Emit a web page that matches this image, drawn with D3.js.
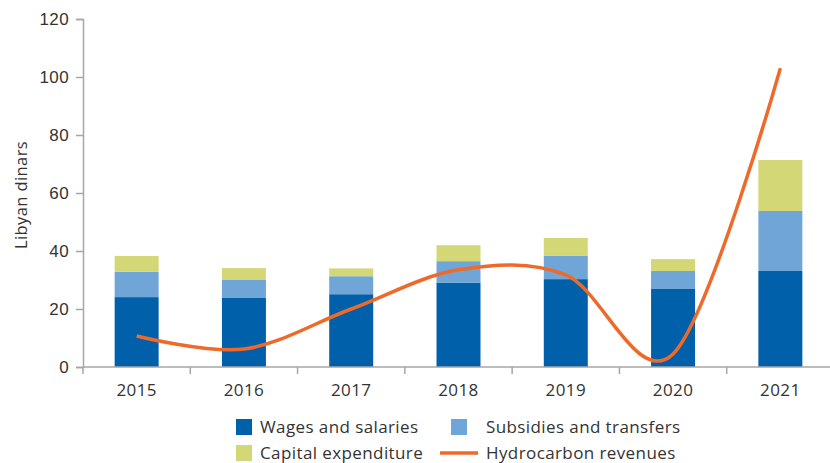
<!DOCTYPE html>
<html>
<head>
<meta charset="utf-8">
<script src="https://cdn.jsdelivr.net/npm/d3@7"></script>
<style>
  body { margin: 0; background: #fff; }
  svg { display: block; font-family: "Open Sans", "Noto Sans", sans-serif; letter-spacing: 0.4px; }
  .axis text { fill: #333; font-size: 17px; }
</style>
</head>
<body>
<div id="chart"></div>
<script>
// values in Libyan dinars (billions)
const years = ['2015', '2016', '2017', '2018', '2019', '2020', '2021'];
const wages = [24.1, 23.8, 25.1, 29.1, 30.3, 26.9, 33.1];
const subsidies = [8.7, 6.2, 6.2, 7.4, 8.0, 6.2, 20.7];
const capital = [5.5, 4.1, 2.7, 5.5, 6.2, 4.1, 17.6];
const hydrocarbon = [10.7, 6.2, 20.0, 33.5, 31.8, 4.5, 103];
const yTicks = [0, 20, 40, 60, 80, 100, 120];

const COLORS = {
  wages: '#0060A9',
  subsidies: '#70A6D7',
  capital: '#D4D776',
  hydro: '#EE6A2A',
  axis: '#A6A6A6'
};

const width = 830, height = 463;
const margin = { top: 19, right: 0, bottom: 96, left: 83 };
const innerW = 751;
const innerH = height - margin.top - margin.bottom;

const svg = d3.select('#chart').append('svg')
  .attr('width', width).attr('height', height);
const g = svg.append('g').attr('transform', `translate(${margin.left},${margin.top})`);

const x = d3.scaleBand().domain(years).range([0, innerW]).paddingInner(0.59).paddingOuter(0.295);
const xCat = d3.scaleBand().domain(years).range([0, innerW]);
const y = d3.scaleLinear().domain([0, 120]).range([innerH, 0]);

// stacked bars
const rows = years.map((yr, i) => ({ year: yr, wages: wages[i], subsidies: subsidies[i], capital: capital[i] }));
const stack = d3.stack().keys(['wages', 'subsidies', 'capital'])(rows);

g.append('g').selectAll('g').data(stack).join('g')
    .attr('fill', d => COLORS[d.key])
  .selectAll('rect').data(d => d).join('rect')
    .attr('x', d => x(d.data.year))
    .attr('width', x.bandwidth())
    .attr('y', d => y(d[1]))
    .attr('height', d => y(d[0]) - y(d[1]));

// y axis
const yAxis = g.append('g').attr('class', 'axis')
  .call(d3.axisLeft(y).tickValues(yTicks).tickSize(7).tickPadding(7));
yAxis.select('.domain').attr('stroke', COLORS.axis).attr('stroke-width', 1.5);
yAxis.selectAll('.tick line').attr('stroke', COLORS.axis).attr('stroke-width', 1.5);

// x axis: ticks at category boundaries
const xAxisG = g.append('g').attr('class', 'axis').attr('transform', `translate(0,${innerH})`);
xAxisG.append('line').attr('x1', 0).attr('x2', innerW)
  .attr('stroke', COLORS.axis).attr('stroke-width', 1.5);
xAxisG.selectAll('line.tk').data(d3.range(years.length)).join('line')
  .attr('class', 'tk')
  .attr('x1', i => xCat(years[i])).attr('x2', i => xCat(years[i]))
  .attr('y1', 0).attr('y2', 7)
  .attr('stroke', COLORS.axis).attr('stroke-width', 1.5);
xAxisG.selectAll('text').data(years).join('text')
  .attr('x', d => xCat(d) + xCat.bandwidth() / 2)
  .attr('y', 29)
  .attr('text-anchor', 'middle')
  .text(d => d);

// y label
g.append('text')
  .attr('transform', 'rotate(-90)')
  .attr('x', -(195 - margin.top)).attr('y', -56)
  .attr('text-anchor', 'middle')
  .attr('fill', '#333').attr('font-size', 16.5)
  .text('Libyan dinars');

// hydrocarbon revenue line, smoothed
const line = d3.line()
  .x((d, i) => xCat(years[i]) + xCat.bandwidth() / 2)
  .y(d => y(d))
  .curve(d3.curveCatmullRom.alpha(0));
g.append('path')
  .attr('d', line(hydrocarbon))
  .attr('fill', 'none')
  .attr('stroke', COLORS.hydro)
  .attr('stroke-width', 3.5);

// legend
const legendItems = [
  { label: 'Wages and salaries', color: COLORS.wages, type: 'box', x: 236, tx: 260, y: 427 },
  { label: 'Subsidies and transfers', color: COLORS.subsidies, type: 'box', x: 451, tx: 486, y: 427 },
  { label: 'Capital expenditure', color: COLORS.capital, type: 'box', x: 236, tx: 260, y: 453 },
  { label: 'Hydrocarbon revenues', color: COLORS.hydro, type: 'line', x: 440, tx: 486, y: 453 }
];
const lg = svg.append('g');
legendItems.forEach(it => {
  if (it.type === 'box') {
    lg.append('rect').attr('x', it.x).attr('y', it.y - 8).attr('width', 16).attr('height', 16).attr('fill', it.color);
  } else {
    lg.append('line').attr('x1', it.x).attr('x2', it.x + 38).attr('y1', it.y).attr('y2', it.y)
      .attr('stroke', it.color).attr('stroke-width', 3.5);
  }
  lg.append('text')
    .attr('x', it.tx)
    .attr('y', it.y + 6)
    .attr('fill', '#333').attr('font-size', 17)
    .text(it.label);
});
</script>
</body>
</html>
